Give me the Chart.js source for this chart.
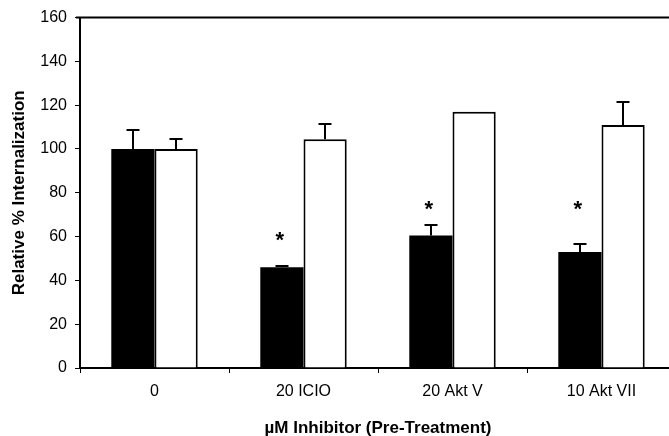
<!DOCTYPE html>
<html>
<head>
<meta charset="utf-8">
<script src="https://cdn.jsdelivr.net/npm/chart.js@4"></script>
<style>
  html, body { margin: 0; padding: 0; background: #fff; overflow: hidden; }
  #wrap { width: 677px; height: 436px; }
</style>
</head>
<body>
<div id="wrap"><canvas id="internalization" width="677" height="436"></canvas></div>
<script>
// Categories (µM inhibitor pre-treatment)
const categories = ['0', '20 ICIO', '20 Akt V', '10 Akt VII'];

// Black bars and white bars
const blackValues = [100, 46, 60.5, 53];
const whiteValues = [100, 104.5, 117, 111];

// Upper ends of the error bars (null = none drawn)
const blackErrTop = [108.5, 46.6, 65.5, 56.7];
const whiteErrTop = [104.5, 111.2, null, 121.5];

// Significance stars over the black bars (height in axis units)
const starAt = [null, 60, 74, 74];

const yTicks = [0, 20, 40, 60, 80, 100, 120, 140, 160];

const font = 'Liberation Sans, Arial, sans-serif';

const errorBars = {
  id: 'errorBars',
  afterDatasetsDraw(chart) {
    const ctx = chart.ctx;
    const y = chart.scales.y;
    const tops = [blackErrTop, whiteErrTop];
    ctx.save();
    ctx.strokeStyle = '#000';
    ctx.lineWidth = 2;
    tops.forEach((arr, di) => {
      const meta = chart.getDatasetMeta(di);
      arr.forEach((v, i) => {
        if (v == null) return;
        const bar = meta.data[i];
        const x = Math.round(bar.x);
        const yTop = Math.round(y.getPixelForValue(v));
        ctx.beginPath();
        ctx.moveTo(x, bar.y);
        ctx.lineTo(x, yTop);
        ctx.moveTo(x - 6.5, yTop);
        ctx.lineTo(x + 6.5, yTop);
        ctx.stroke();
      });
    });
    // stars
    ctx.fillStyle = '#000';
    ctx.font = 'bold 22px ' + font;
    ctx.textAlign = 'center';
    ctx.textBaseline = 'middle';
    const meta = chart.getDatasetMeta(0);
    starAt.forEach((v, i) => {
      if (v == null) return;
      ctx.fillText('*', meta.data[i].x - 2, y.getPixelForValue(v) + 4);
    });
    // top frame line
    const a = chart.chartArea;
    ctx.lineWidth = 2;
    ctx.beginPath();
    ctx.moveTo(a.left - 4, a.top);
    ctx.lineTo(a.right, a.top);
    ctx.stroke();
    ctx.restore();
  }
};

const config = {
  type: 'bar',
  data: {
    labels: categories,
    datasets: [
      {
        data: blackValues,
        backgroundColor: '#000',
        borderColor: '#000',
        borderWidth: 0,
        categoryPercentage: 0.58,
        barPercentage: 1.0
      },
      {
        data: whiteValues,
        backgroundColor: '#fff',
        borderColor: '#000',
        borderWidth: 2,
        categoryPercentage: 0.58,
        barPercentage: 1.0
      }
    ]
  },
  options: {
    responsive: false,
    animation: false,
    layout: { padding: { left: 0, top: 16, right: 1, bottom: 0 } },
    plugins: {
      legend: { display: false },
      tooltip: { enabled: false }
    },
    scales: {
      x: {
        offset: true,
        grid: {
          offset: true,
          drawOnChartArea: false,
          drawTicks: true,
          tickLength: 5,
          color: '#000'
        },
        border: { display: true, color: '#000', width: 2 },
        ticks: {
          color: '#000',
          font: { family: font, size: 16 },
          padding: 9
        },
        title: {
          display: true,
          text: 'µM Inhibitor (Pre-Treatment)',
          color: '#000',
          font: { family: font, size: 17, weight: 'bold' },
          padding: { top: 0, bottom: -3 }
        },
        afterFit(scale) { scale.height = 68; }
      },
      y: {
        min: 0,
        max: 160,
        afterBuildTicks(scale) { scale.ticks = yTicks.map(v => ({ value: v })); },
        grid: {
          drawOnChartArea: false,
          drawTicks: true,
          tickLength: 5,
          color: '#000'
        },
        border: { display: true, color: '#000', width: 2 },
        ticks: {
          color: '#000',
          font: { family: font, size: 16 },
          padding: 8
        },
        title: {
          display: true,
          text: 'Relative % Internalization',
          color: '#000',
          font: { family: font, size: 17, weight: 'bold' },
          padding: { top: 9, bottom: 4 }
        },
        afterFit(scale) { scale.width = 80; }
      }
    }
  },
  plugins: [errorBars]
};

const ctx = document.getElementById('internalization').getContext('2d');
new Chart(ctx, config);
</script>
</body>
</html>
